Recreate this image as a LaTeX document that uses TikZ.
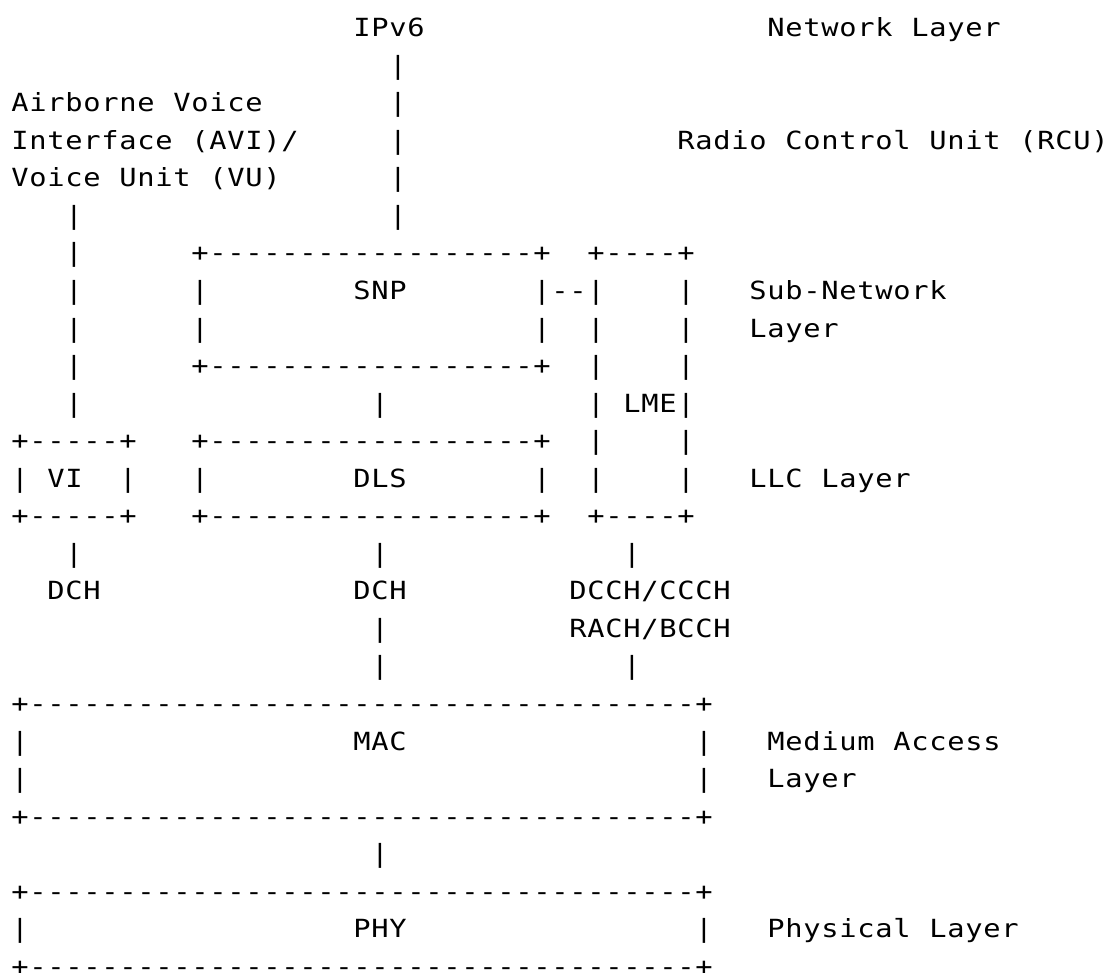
\documentclass[tikz,border=0pt]{standalone}
\usepackage{graphicx}
\usepackage{fontspec}
\setmonofont{DejaVu Sans Mono}
\newlength\cw
\setlength\cw{18pt}
\makeatletter
\def\gridtext#1{\gridtext@#1\relax}
\def\gridtext@#1{\ifx#1\relax\else\makebox[\cw][c]{\scalebox{1.15}[1]{#1}}\expandafter\gridtext@\fi}
\makeatother
\tikzset{
  ascii/.style={anchor=base west, inner sep=0pt, outer sep=0pt,
    font=\ttfamily\fontsize{25}{30}\selectfont, text=black}
}
% place a string on the character grid: name, column, row, text
\newcommand\gt[4]{\node[ascii] (#1) at ({11+18*#2},{36.6+37.55*#3}) {\gridtext{#4}};}
% vertical run of bars: name, column, first row, last row
\newcommand\vb[4]{\foreach \rr in {#3,...,#4} {\node[ascii] (#1-\rr) at ({11+18*#2},{36.6+37.55*\rr}) {\gridtext{|}};}}
\begin{document}
\begin{tikzpicture}[x=1pt,y=-1pt]
\useasboundingbox (0,0) rectangle (1111,972);
\clip (0,0) rectangle (1111,972);
% top labels
\gt{ipv6}{19}{0}{IPv6}
\gt{netlayer}{42}{0}{Network~Layer}
\vb{ipline}{21}{1}{5}
\gt{avi1}{0}{2}{Airborne~Voice}
\gt{avi2}{0}{3}{Interface~(AVI)/}
\gt{rcu}{37}{3}{Radio~Control~Unit~(RCU)}
\gt{avi3}{0}{4}{Voice~Unit~(VU)}
\vb{aviline}{3}{5}{10}
% SNP box and LME box
\gt{snptop}{10}{6}{+------------------+}
\gt{lmetop}{32}{6}{+----+}
\vb{snpleft}{10}{7}{8}
\gt{snp}{19}{7}{SNP}
\gt{snplink}{29}{7}{|--|}
\gt{snpright}{29}{8}{|}
\vb{lmeleft}{32}{8}{12}
\vb{lmeright}{37}{7}{12}
\gt{subnet}{41}{7}{Sub-Network}
\gt{sublayer}{41}{8}{Layer}
\gt{snpbot}{10}{9}{+------------------+}
\vb{snpdls}{20}{10}{10}
\gt{lme}{34}{10}{LME}
% VI box and DLS box
\gt{vitop}{0}{11}{+-----+}
\gt{dlstop}{10}{11}{+------------------+}
\gt{vileft}{0}{12}{|}
\gt{vi}{2}{12}{VI}
\gt{viright}{6}{12}{|}
\gt{dlsleft}{10}{12}{|}
\gt{dls}{19}{12}{DLS}
\gt{dlsright}{29}{12}{|}
\gt{llc}{41}{12}{LLC~Layer}
\gt{vibot}{0}{13}{+-----+}
\gt{dlsbot}{10}{13}{+------------------+}
\gt{lmebot}{32}{13}{+----+}
% channels
\vb{vidch}{3}{14}{14}
\vb{dlsdch}{20}{14}{14}
\vb{lmech}{34}{14}{14}
\gt{dch1}{2}{15}{DCH}
\gt{dch2}{19}{15}{DCH}
\gt{dcch}{31}{15}{DCCH/CCCH}
\vb{dchmac}{20}{16}{17}
\gt{rach}{31}{16}{RACH/BCCH}
\vb{lmemac}{34}{17}{17}
% MAC box
\gt{mactop}{0}{18}{+-------------------------------------+}
\vb{macleft}{0}{19}{20}
\gt{mac}{19}{19}{MAC}
\vb{macright}{38}{19}{20}
\gt{medium}{42}{19}{Medium~Access}
\gt{maclayer}{42}{20}{Layer}
\gt{macbot}{0}{21}{+-------------------------------------+}
\vb{macphy}{20}{22}{22}
% PHY box
\gt{phytop}{0}{23}{+-------------------------------------+}
\gt{phyleft}{0}{24}{|}
\gt{phy}{19}{24}{PHY}
\gt{phyright}{38}{24}{|}
\gt{physical}{42}{24}{Physical~Layer}
\gt{phybot}{0}{25}{+-------------------------------------+}
\end{tikzpicture}
\end{document}
